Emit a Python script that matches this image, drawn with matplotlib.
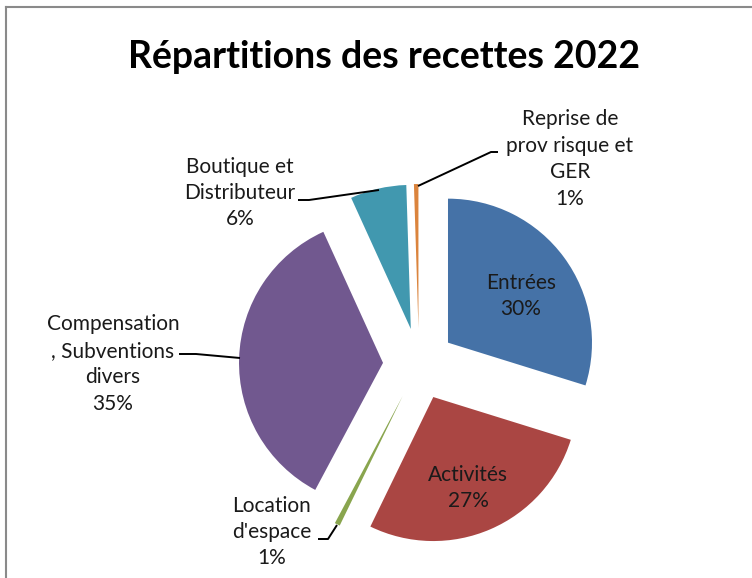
import matplotlib
matplotlib.use('Agg')
import matplotlib.pyplot as plt
from matplotlib.lines import Line2D

categories = ['Entrées', 'Activités', "Location\nd'espace", 'Compensation\n, Subventions\ndivers',
              'Boutique et\nDistributeur', 'Reprise de\nprov risque et\nGER']
values = [29.8, 27.4, 0.6, 35.4, 6.3, 0.5]
colors = ['#4572A7', '#AA4643', '#89A54E', '#71588F', '#4198AF', '#DB843D']

W, H = 752, 578
cx, cy = 419, H - 364
radius = 144
explode_px = 36

# label centres and leader lines, in pixels from top-left
label_pos = [(521, 296), (468, 488), (272, 532), (113, 364), (240, 193), (570, 159)]
leaders = [None, None,
           [(318, 539), (328, 539), (337, 525)],
           [(179, 354), (196, 354), (240, 358)],
           [(298, 200), (309, 200), (379, 190)],
           [(498, 152), (491, 152), (418, 186)]]

plt.rcParams['font.family'] = ['Lato', 'DejaVu Sans']

fig = plt.figure(figsize=(W / 100, H / 100), dpi=100)
ax = fig.add_axes([0, 0, 1, 1])
ax.pie(values, colors=colors, startangle=90, counterclock=False,
       explode=[explode_px] * len(values), radius=radius, center=(cx, cy),
       wedgeprops=dict(linewidth=0))
ax.set_xlim(0, W)
ax.set_ylim(0, H)
ax.set_aspect('equal')
ax.axis('off')

total = sum(values)
for cat, v, (px, py), ld in zip(categories, values, label_pos, leaders):
    txt = '%s\n%d%%' % (cat, int(100 * v / total + 0.5))
    ax.text(px, H - py, txt, ha='center', va='center', fontsize=15,
            linespacing=1.4, color='#1a1a1a')
    if ld:
        ax.plot([p[0] for p in ld], [H - p[1] for p in ld], color='black', lw=1.4,
                solid_capstyle='butt')

fig.text(384 / W, 1 - 57 / H, 'Répartitions des recettes 2022', ha='center', va='center',
         fontsize=27, fontweight='bold', color='black')

# chart frame (top and left edges visible)
fig.add_artist(Line2D([6 / W, 6 / W], [0, 1 - 7 / H], color='#8a8a8a', lw=1.5,
                      transform=fig.transFigure))
fig.add_artist(Line2D([6 / W, 1], [1 - 7 / H, 1 - 7 / H], color='#8a8a8a', lw=1.5,
                      transform=fig.transFigure))

fig.savefig('out.png', dpi=100)
